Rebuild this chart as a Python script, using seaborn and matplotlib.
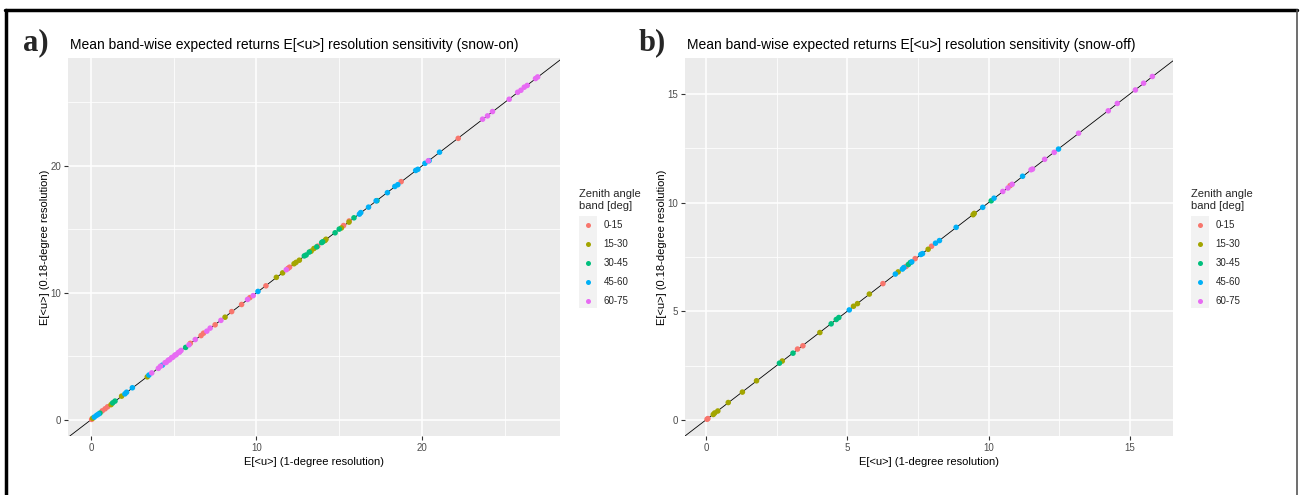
import numpy as np
import pandas as pd
import matplotlib
matplotlib.use("Agg")
import matplotlib.pyplot as plt
import seaborn as sns
from matplotlib.lines import Line2D
from matplotlib.patches import Rectangle
from matplotlib.ticker import MultipleLocator

# ---------------- data ----------------
bands = ["0-15", "15-30", "30-45", "45-60", "60-75"]
palette = ["#F8766D", "#A3A500", "#00BF7D", "#00B0F6", "#E76BF3"]

# Panel a (snow-on): x = 1-degree resolution, y = 0.18-degree resolution
a_x_0_15 = [0.04, 0.68, 0.85, 1.0, 6.0, 6.65, 6.8, 7.5, 8.5, 9.1, 9.6, 10.57, 11.9, 12.0, 13.7, 15.26, 15.6, 18.74, 22.19]
a_y_0_15 = [0.03, 0.70, 0.86, 1.02, 6.02, 6.63, 6.82, 7.48, 8.52, 9.08, 9.62, 10.55, 11.92, 12.02, 13.68, 15.30, 15.66, 18.76, 22.17]
a_x_15_30 = [0.1, 1.21, 1.85, 3.4, 8.1, 11.2, 11.58, 12.27, 12.39, 12.59, 13.3, 13.47, 14.14, 14.2, 15.13, 15.59]
a_y_15_30 = [0.12, 1.19, 1.86, 3.38, 8.08, 11.22, 11.57, 12.29, 12.40, 12.57, 13.28, 13.49, 14.12, 14.22, 15.11, 15.57]
a_x_30_45 = [0.54, 1.31, 1.45, 5.72, 12.89, 13.0, 13.19, 13.64, 13.94, 14.0, 14.75, 15.0, 15.89, 17.28]
a_y_30_45 = [0.52, 1.33, 1.47, 5.70, 12.91, 12.98, 13.21, 13.62, 13.96, 14.02, 14.73, 15.02, 15.91, 17.26]
a_x_45_60 = [0.2, 0.34, 0.45, 2.05, 2.15, 2.5, 3.5, 4.31, 10.09, 16.22, 16.3, 16.77, 17.23, 17.91, 18.36, 18.54, 19.62, 19.75, 20.18, 20.43, 21.06]
a_y_45_60 = [0.21, 0.35, 0.44, 2.04, 2.17, 2.52, 3.52, 4.30, 10.11, 16.20, 16.32, 16.75, 17.25, 17.89, 18.38, 18.52, 19.64, 19.73, 20.20, 20.41, 21.08]
a_x_60_75 = [3.67, 4.07, 4.2, 4.47, 4.55, 4.67, 4.75, 4.87, 4.95, 5.07, 5.15, 5.28, 5.35, 5.44, 5.92, 6.3, 7.0, 7.2, 7.85, 9.46, 9.8, 11.8,
             20.38, 23.66, 23.96, 24.26, 25.27, 25.78, 25.98, 26.18, 26.36, 26.86, 26.99]
a_y_60_75 = [3.69, 4.05, 4.22, 4.49, 4.53, 4.69, 4.73, 4.89, 4.93, 5.09, 5.13, 5.30, 5.33, 5.46, 5.90, 6.32, 6.98, 7.22, 7.83, 9.48, 9.78, 11.82,
             20.40, 23.68, 23.94, 24.28, 25.25, 25.80, 25.96, 26.20, 26.34, 26.88, 27.01]

# Panel b (snow-off)
b_x_0_15 = [0.04, 0.07, 3.24, 3.43, 6.26, 7.08, 7.4, 7.98, 10.76]
b_y_0_15 = [0.03, 0.06, 3.26, 3.41, 6.27, 7.06, 7.42, 7.99, 10.78]
b_x_15_30 = [0.26, 0.31, 0.42, 0.79, 1.29, 1.79, 2.7, 4.03, 5.22, 5.36, 5.78, 6.8, 7.86, 9.45, 9.49]
b_y_15_30 = [0.25, 0.32, 0.41, 0.80, 1.28, 1.80, 2.71, 4.02, 5.23, 5.35, 5.79, 6.81, 7.85, 9.44, 9.50]
b_x_30_45 = [2.6, 3.08, 4.43, 4.61, 4.7, 7.16, 7.23, 10.09]
b_y_30_45 = [2.61, 3.07, 4.42, 4.62, 4.71, 7.15, 7.24, 10.08]
b_x_45_60 = [5.07, 6.7, 6.95, 7.0, 7.28, 7.6, 7.66, 8.12, 8.26, 8.85, 9.79, 10.19, 11.2, 12.47]
b_y_45_60 = [5.06, 6.71, 6.94, 7.01, 7.27, 7.61, 7.65, 8.13, 8.25, 8.86, 9.78, 10.20, 11.21, 12.46]
b_x_60_75 = [10.5, 10.68, 10.83, 11.5, 11.55, 11.98, 12.32, 13.18, 14.23, 14.55, 15.19, 15.48, 15.79]
b_y_60_75 = [10.51, 10.67, 10.84, 11.51, 11.54, 11.99, 12.31, 13.19, 14.22, 14.56, 15.18, 15.49, 15.80]

titles = ["Mean band-wise expected returns E[<u>] resolution sensitivity (snow-on)",
          "Mean band-wise expected returns E[<u>] resolution sensitivity (snow-off)"]
xlabel = "E[<u>] (1-degree resolution)"
ylabel = "E[<u>] (0.18-degree resolution)"
legend_title = "Zenith angle\nband [deg]"
panel_tags = ["a)", "b)"]


def make_df(xs, ys):
    frames = []
    for b, x, y in zip(bands, xs, ys):
        frames.append(pd.DataFrame({"x": x, "y": y, "band": b}))
    return pd.concat(frames, ignore_index=True)


df_a = make_df([a_x_0_15, a_x_15_30, a_x_30_45, a_x_45_60, a_x_60_75],
               [a_y_0_15, a_y_15_30, a_y_30_45, a_y_45_60, a_y_60_75])
df_b = make_df([b_x_0_15, b_x_15_30, b_x_30_45, b_x_45_60, b_x_60_75],
               [b_y_0_15, b_y_15_30, b_y_30_45, b_y_45_60, b_y_60_75])

# ---------------- style ----------------
sns.set_theme(style="darkgrid", rc={"axes.facecolor": "#EBEBEB", "grid.color": "white"})
plt.rcParams["font.family"] = ["Liberation Sans", "DejaVu Sans"]

W, H = 1300, 495
fig = plt.figure(figsize=(W / 100, H / 100), dpi=100)
fig.patch.set_facecolor("white")


def fx(px):
    return px / W


def fy(py):
    return 1 - py / H


panels = [
    dict(df=df_a, left=68, right=560.5, xlim=(-1.39, 28.37), ylim=(-1.28, 28.5), major=10, minor=5,
         leg_x=579, tag_x=23),
    dict(df=df_b, left=685, right=1173, xlim=(-0.74, 16.52), ylim=(-0.74, 16.65), major=5, minor=2.5,
         leg_x=1191, tag_x=639),
]
top, bottom = 58, 436

for i, p in enumerate(panels):
    ax = fig.add_axes([fx(p["left"]), fy(bottom), (p["right"] - p["left"]) / W, (bottom - top) / H])
    ax.set_facecolor("#EBEBEB")
    ax.axline((0, 0), slope=1, color="black", lw=0.6, zorder=2)
    sns.scatterplot(data=p["df"], x="x", y="y", hue="band", hue_order=bands, palette=palette,
                    s=16, linewidth=0, ax=ax, zorder=3, legend=True)
    ax.set_xlim(*p["xlim"])
    ax.set_ylim(*p["ylim"])
    ax.xaxis.set_major_locator(MultipleLocator(p["major"]))
    ax.yaxis.set_major_locator(MultipleLocator(p["major"]))
    ax.xaxis.set_minor_locator(MultipleLocator(p["minor"]))
    ax.yaxis.set_minor_locator(MultipleLocator(p["minor"]))
    ax.grid(which="major", color="white", lw=1.1)
    ax.grid(which="minor", color="white", lw=0.55)
    for s in ax.spines.values():
        s.set_visible(False)
    ax.tick_params(which="major", length=3, width=0.8, color="#333333", labelcolor="#4D4D4D",
                   labelsize=7, pad=2, bottom=True, left=True)
    ax.tick_params(which="minor", length=0)
    ax.set_xlabel(xlabel, fontsize=8, color="black", labelpad=3)
    ax.set_ylabel(ylabel, fontsize=8, color="black", labelpad=0.5)

    handles, labels = ax.get_legend_handles_labels()
    ax.legend_.remove()
    fig.add_artist(Rectangle((fx(p["leg_x"]), fy(308)), 18 / W, 92 / H, transform=fig.transFigure,
                             facecolor="#F2F2F2", edgecolor="none"))
    leg = fig.legend(handles, labels, title=legend_title, loc="upper left",
                     bbox_to_anchor=(fx(p["leg_x"]), fy(189)), bbox_transform=fig.transFigure,
                     frameon=False, fontsize=7, title_fontsize=8, handletextpad=0.7,
                     labelspacing=0.92, borderpad=0, borderaxespad=0, handlelength=1.85,
                     markerscale=0.9)
    leg._legend_box.align = "left"
    leg._legend_box.sep = 7

    fig.text(fx(p["left"] + 2), fy(49), titles[i], fontsize=10, va="baseline", ha="left", color="black")
    fig.text(fx(p["tag_x"]), fy(50), panel_tags[i], fontsize=22, fontweight="bold",
             family=["Liberation Serif", "DejaVu Serif"], va="baseline", ha="left")

# outer frame
fig.add_artist(Line2D([fx(5), fx(1297)], [fy(9.5), fy(9.5)], transform=fig.transFigure, color="black", lw=2.5))
fig.add_artist(Line2D([fx(6), fx(6)], [fy(9.5), fy(500)], transform=fig.transFigure, color="black", lw=2.5))
fig.add_artist(Line2D([fx(1296.5), fx(1296.5)], [fy(9.5), fy(500)], transform=fig.transFigure, color="#555555", lw=1.2))

fig.savefig("out.png", dpi=100)
